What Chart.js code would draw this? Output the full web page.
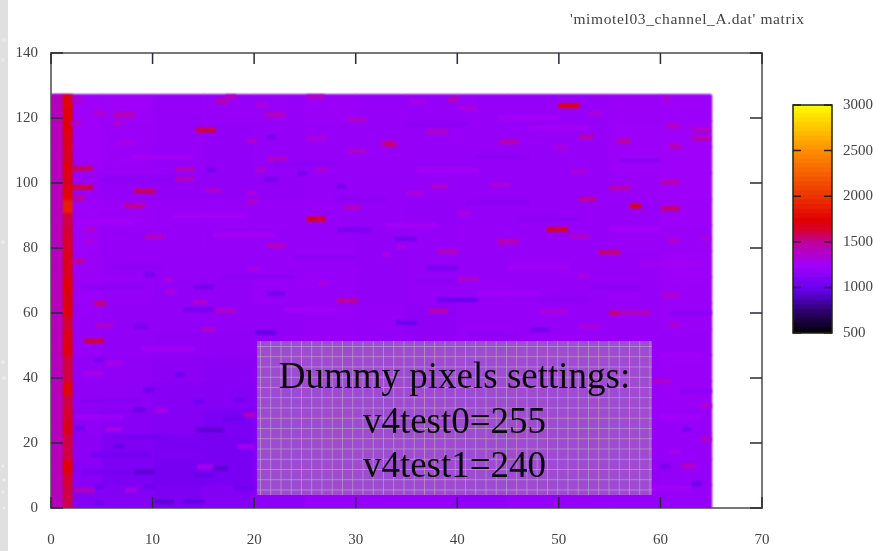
<!DOCTYPE html>
<html><head><meta charset="utf-8">
<style>
html,body{margin:0;padding:0;background:#fff;width:873px;height:551px;overflow:hidden}
#soft{position:absolute;left:0;top:0;width:873px;height:551px;filter:blur(.5px)}
canvas{position:absolute;display:block}
#strip{position:absolute;left:0;top:0;width:8px;height:551px;background-color:#e0e0e0;
 background-image:radial-gradient(circle 2px at 3px 466px,#f6f6f6,transparent),radial-gradient(circle 2px at 4px 480px,#f6f6f6,transparent),radial-gradient(circle 2px at 3px 492px,#f4f4f4,transparent),radial-gradient(circle 2px at 4px 508px,#f4f4f4,transparent),radial-gradient(circle 3px at 3px 242px,#efefef,transparent),radial-gradient(circle 3px at 3px 362px,#efefef,transparent),radial-gradient(circle 3px at 4px 378px,#efefef,transparent),radial-gradient(circle 3px at 4px 40px,#ececec,transparent),radial-gradient(circle 3px at 3px 60px,#ececec,transparent)}
#title{position:absolute;left:570px;top:10px;font:15.5px "Liberation Serif",serif;letter-spacing:.62px;color:#444;white-space:nowrap}
#note{position:absolute;left:257px;top:341px;width:395px;height:154px;
 background-color:rgba(165,85,212,.85);
 background-image:linear-gradient(rgba(185,180,185,.6) 1px,transparent 1px),linear-gradient(90deg,rgba(185,180,185,.6) 1px,transparent 1px),repeating-conic-gradient(rgba(140,90,170,.3) 0 25%,transparent 0 50%);
 background-size:10.25px 10.25px,10.25px 10.25px,3px 3px;background-position:3px 5px,3px 5px,0 0;
 font:37px/44.5px "Liberation Serif",serif;color:#0a0a0a;text-align:center;padding-top:13px;box-sizing:border-box;white-space:nowrap}
</style></head><body>
<div id="strip"></div>
<div id="soft">
<canvas id="heat" width="873" height="551" style="left:0;top:0"></canvas>
<canvas id="bar" width="112" height="400" style="left:780px;top:0"></canvas>
<div id="title">'mimotel03_channel_A.dat' matrix</div>
</div>
<div id="note">Dummy pixels settings:<br>v4test0=255<br>v4test1=240</div>
<script src="https://cdn.jsdelivr.net/npm/chart.js@4/dist/chart.umd.min.js"></script>
<script>
const xTicks=[0,10,20,30,40,50,60,70];
const yTicks=[0,20,40,60,80,100,120,140];
const barTicks=[500,1000,1500,2000,2500,3000];
const paletteLevels=[500,750,1000,1250,1500,1650,1750,2000,2500,3000];
const paletteColors=[[0,0,0],[45,0,110],[105,0,240],[163,0,250],[190,0,160],[215,0,40],[225,0,0],[235,50,0],[255,140,0],[255,250,0]];
const barLevels=[500,550,600,650,700,750,800,850,900,950,1000,1050,1100,1150,1200,1250,1300,1350,1400,1450,1500,1550,1600,1650,1700,1750,1800,1850,1900,1950,2000,2050,2100,2150,2200,2250,2300,2350,2400,2450,2500,2550,2600,2650,2700,2750,2800,2850,2900,2950,3000];

// x spans of the coarse background columns
const bandStarts=[0,5,10,15,20,25,30,35,40,45,50,55,60];
// y centres of the coarse background rows, bottom to top
const bandRows=[3,11,19,27,35,43,51,59,67,75,83,91,99,107,115,123];
const bandValues=[
[1110,1110,1090,1110,1160,1190,1190,1190,1170,1190,1190,1190,1200],
[1140,1090,1060,1070,1130,1160,1190,1190,1170,1190,1190,1180,1190],
[1150,1100,1080,1070,1120,1160,1190,1190,1170,1190,1190,1190,1200],
[1160,1140,1120,1080,1120,1160,1170,1180,1180,1190,1190,1200,1200],
[1170,1160,1130,1120,1140,1170,1170,1180,1190,1200,1200,1200,1210],
[1180,1170,1150,1140,1160,1180,1180,1180,1200,1200,1210,1200,1210],
[1200,1180,1170,1170,1180,1190,1180,1170,1190,1200,1200,1200,1200],
[1200,1180,1180,1180,1180,1200,1190,1170,1200,1200,1200,1200,1210],
[1210,1190,1180,1180,1200,1200,1180,1190,1200,1200,1190,1200,1210],
[1210,1200,1190,1190,1200,1200,1180,1190,1190,1200,1200,1200,1220],
[1220,1200,1200,1200,1200,1200,1180,1190,1200,1200,1200,1210,1210],
[1220,1210,1200,1200,1200,1200,1190,1180,1190,1190,1200,1200,1220],
[1210,1190,1180,1180,1180,1190,1190,1190,1190,1190,1200,1210,1230],
[1220,1210,1190,1180,1190,1200,1200,1190,1190,1190,1200,1220,1230],
[1230,1210,1200,1180,1190,1200,1200,1200,1200,1200,1200,1220,1230],
[1230,1220,1200,1200,1200,1210,1200,1190,1200,1200,1200,1210,1220]];
// first two pixel columns
const dummyRows=[1,5,9,13,17,21,25,29,33,37,41,45,49,53,57,61,65,69,73,77,81,85,89,93,97,101,105,109,113,117,121,125];
const column0=[1430,1430,1430,1430,1430,1430,1430,1430,1430,1430,1430,1430,1430,1430,1430,1430,1430,1430,1430,1430,1430,1430,1430,1430,1430,1430,1430,1430,1430,1430,1430,1430];
const column1=[1600,1620,1640,1760,1620,1620,1700,1650,1620,1780,1620,1620,1720,1700,1640,1730,1720,1760,1680,1700,1660,1640,1620,1900,1780,1680,1720,1680,1700,1740,1760,1780];
// [x from, x to, y, level] hot and cold streaks
const streaks=[
[2.1,3.1,125.5,1380],[16.2,17.4,125.2,1470],[17.2,18.2,126.5,1420],[25.2,26.9,126.5,1380],[20.2,21.3,124,1330],[4.3,5.4,121.6,1380],[6.2,8.2,121,1470],[21.1,23.1,121,1420],[6.2,7,118.3,1380],[29.2,31.1,119.4,1380],[2,3,118.3,1380],[14.3,16.2,116.3,1640],[19.3,20.2,113,1380],[25.2,27,113.7,1330],[6.5,8.2,112.4,1300],[32.6,33.5,112.2,1520],[29.2,31,109.8,1380],[21.3,23.3,107.3,1420],[2,4.1,104.5,1600],[12.3,14.1,104.3,1420],[20.2,21.1,104,1380],[26.2,27.2,104.2,1380],[12.3,14.1,101.2,1420],[2,4.1,98.7,1640],[8.2,10.2,97.5,1600],[15.2,16.7,97.8,1380],[2.3,3.3,95.3,1520],[19.3,20.2,96.8,1330],[19.3,20.3,94.2,1380],[7.2,9.2,93,1520],[28.9,30.5,92.5,1420],[25.2,27,88.9,1720],
[39.1,40.1,125.7,1470],[50,52,123.8,1720],[40.3,41.9,123,1330],[53,54.2,121.4,1330],[60.3,60.9,126,1380],[35.4,37,125,1300],[37,39.1,115.8,1380],[60.6,61.9,117.5,1420],[63.2,64.9,116.3,1420],[63.2,64.9,113.7,1470],[32.9,34,111.9,1560],[44.2,46,112.7,1470],[52,53.4,114.2,1470],[55.8,57,112.9,1520],[60.9,62,111.2,1470],[49.5,50.9,111,1330],[51.1,52.7,103.5,1330],[60.1,61.9,100.2,1470],[55,57,98.5,1470],[37.5,39.1,98.9,1380],[43.2,45.2,99.4,1330],[35,36.7,96.8,1330],[52,53.7,95,1520],[57,58.1,92.9,1720],[60.1,61.9,92.2,1560],[40.1,41.3,90.5,1330],
[3.3,4.4,85.6,1380],[9.3,11.1,83.5,1420],[3.3,4.3,82.3,1330],[21.3,23.1,80.7,1420],[2,3.3,76,1520],[4.3,5.4,63,1560],[14.1,15.4,63.3,1380],[28.2,30.2,63.8,1520],[16.2,18.2,60.7,1380],[4.4,6.1,56.1,1380],[14.8,16.2,55,1380],[3.3,5.2,51.4,1640],[26.4,27.2,69.2,1330],[11.3,12.3,66.6,1330],[11.1,12,70.2,1330],[32.6,33.4,78,1300],[19.3,20.5,73.6,1300],
[48.8,50.9,85.7,1680],[44,46,82,1470],[51.1,53,83.5,1380],[38.1,40,78.9,1420],[53.9,56,78.7,1560],[60.8,61.9,82.3,1380],[64,64.9,83,1330],[34,35,80.4,1300],[40,42.1,70.4,1380],[51.9,52.9,71.4,1330],[60.1,61.9,65.6,1380],[37.2,39.1,60.7,1470],[55,56,60.1,1560],[56,59,60.1,1420],[48.1,50.8,60.4,1330],[52,54,55.8,1330],[60.9,61.9,56.3,1380],
[2.3,4.3,5.5,1420],[19,20.2,28.6,1420],[10.3,11.5,30,1300],[5.4,7,44.5,1300],[3.3,5.1,41.5,1300],[5.4,7,24.2,1280],[14.4,16,12.7,1280],[18.4,20,18.9,1280],[7.4,8.4,5.5,1300],
[59.3,61,38.9,1380],[64,65,31.5,1380],[64,65,21.2,1420],[62.1,63.4,12.9,1420],[61,62,17.3,1280],[48.5,50,48,1330],[54.7,56,45.5,1300],[51.2,53,4.5,1330],
[15.4,16.2,104,1060],[21,22.3,101,1060],[24.3,25.2,103,1060],[28.2,29,99,1060],[21.3,22.1,114,1080],[14.1,16,68,1060],[20.2,22.1,54,980],[9.2,10.2,71.7,1060],[8.2,9.5,55.8,1060],[13.1,16,61,1060],[28.2,31.5,85.6,1080],[21.3,23,66,1060],[4.3,5.1,45.6,1060],
[38,42,64,1010],[37,40,73.8,1060],[34,36,57,1010],[33.9,36,82.8,1060],[47.2,49.1,54.8,1060],
[12.3,13.1,41,1010],[9.2,10.2,36.3,1010],[8.2,9.2,30.2,980],[14.3,17,24,950],[6.2,7.2,18.9,980],[8.2,10.2,11,950],[16,17.4,12.2,950],[4.3,5.2,6.6,1010],[9.2,10.2,6.6,1010],[10.2,12.1,2,950],[13.1,15.1,2,980],[4.3,5.2,1.5,1040],[18,20,6,1040],[17,19,27.3,1010],[3.9,9.8,16.3,1040],[14.1,16,10,1010],[18,19,33.2,1040],[2.3,3.3,24.5,1040],[14.1,15,32.7,1040],
[62.1,63,24.2,1060],[63.1,64,7.4,1010],[60,61,12.7,1060],
// faint mottling
[8,14,108,1260],[22,28,106,1150],[5,12,101,1150],[12,19,90,1250],[2.5,8,88,1250],[28,33,95,1150],[16,22,84,1260],[24,30,77,1150],[6,11,74,1150],[17,24,71,1150],[3,9,68,1150],[23,28,61,1250],[9,14,49,1260],[16,21,46,1150],[24,28,48,1260],
[35,41,118,1150],[44,50,120,1260],[42,47,108,1150],[47,53,117,1260],[56,60,107,1150],[36,42,104,1260],[46,52,89,1150],[33,38,87,1260],[41,47,94,1150],[55,60,86,1250],[36,40,70,1150],[45,51,74,1260],[53,58,68,1150],[58,64,75,1260],[42,48,66,1250],[48,53,64,1150],[34,39,50,1260],[41,46,53,1150],[60,64,47,1250],[61,65,60,1150],[62,65,36,1150],[60,64,28,1250],[59,63,6,1250],
[3,9,33,1120],[6,12,22,1060],[11,17,19,1070],[3,8,11,1060],[11,16,8,1060],[2.5,7,28,1230]];

function colourOf(v){
  let i=0; while(i<paletteLevels.length-2&&v>paletteLevels[i+1])i++;
  const t=Math.max(0,Math.min(1,(v-paletteLevels[i])/(paletteLevels[i+1]-paletteLevels[i])));
  const a=paletteColors[i],b=paletteColors[i+1];
  return `rgb(${a.map((c,k)=>Math.round(c+(b[k]-c)*t)).join(',')})`;
}
const cellColour=c=>colourOf(c.raw.v);
const baseCells=[{y:63.5,x:[0,65],v:1200}];
const bandCells=[];
bandRows.forEach((y,r)=>bandStarts.forEach((x,c)=>bandCells.push({y,x:[x,x+5],v:bandValues[r][c]})));
const dummyCells0=dummyRows.map((y,i)=>({y,x:[0,1.2],v:column0[i]}));
const dummyCells1=dummyRows.map((y,i)=>({y,x:[1.2,2.1],v:column1[i]}));
const streakCells=streaks.map(s=>({y:s[2],x:[s[0],s[1]],v:s[3]}));
const layer=(data,t)=>({data,backgroundColor:cellColour,barThickness:t,borderWidth:0,grouped:false});

const frame={id:'frame',
 beforeDatasetsDraw(ch){const{ctx,chartArea:a}=ch;ctx.save();ctx.strokeStyle='#777';ctx.lineWidth=2;ctx.strokeRect(a.left,a.top,a.right-a.left,a.bottom-a.top);ctx.filter='blur(1.2px)';},
 afterDatasetsDraw(ch){const{ctx,chartArea:a,scales:{x,y}}=ch;ctx.restore();ctx.save();ctx.strokeStyle='#2a2a3a';ctx.lineWidth=1.5;ctx.beginPath();
  x.ticks.forEach(t=>{const p=x.getPixelForValue(t.value);ctx.moveTo(p,a.top);ctx.lineTo(p,a.top+11);ctx.moveTo(p,a.bottom);ctx.lineTo(p,a.bottom-11);});
  y.ticks.forEach(t=>{const p=y.getPixelForValue(t.value);ctx.moveTo(a.left,p);ctx.lineTo(a.left+12,p);ctx.moveTo(a.right,p);ctx.lineTo(a.right-12,p);});
  ctx.stroke();ctx.restore();}};

const plain=v=>String(v);
const tickFont={family:'"Liberation Serif",serif',size:15};
new Chart(document.getElementById('heat'),{type:'bar',plugins:[frame],
 // the first dataset is painted last, so the finest layer leads
 data:{datasets:[layer(streakCells,4),layer(dummyCells1,14),layer(dummyCells0,14),layer(bandCells,27),layer(baseCells,413)]},
 options:{indexAxis:'y',responsive:false,animation:false,devicePixelRatio:1,
  layout:{padding:{left:0,right:111,top:53,bottom:0}},
  plugins:{legend:{display:false},tooltip:{enabled:false}},
  scales:{
   x:{type:'linear',min:0,max:70,afterBuildTicks:s=>{s.ticks=xTicks.map(value=>({value}));},afterFit:s=>{s.height=43;},
      grid:{drawOnChartArea:false,drawTicks:false},border:{display:false},ticks:{padding:23,font:tickFont,color:'#444',maxRotation:0,callback:plain}},
   y:{type:'linear',min:0,max:140,offset:false,afterBuildTicks:s=>{s.ticks=yTicks.map(value=>({value}));},afterFit:s=>{s.width=51;},
      grid:{drawOnChartArea:false,drawTicks:false,offset:false},border:{display:false},ticks:{padding:13,font:tickFont,color:'#444',callback:plain}}
  }}});

const barFrame={id:'barFrame',afterDatasetsDraw(ch){const{ctx,chartArea:a,scales:{y}}=ch;ctx.save();ctx.strokeStyle='#23230f';ctx.lineWidth=1.5;ctx.strokeRect(a.left,a.top,a.right-a.left,a.bottom-a.top);ctx.beginPath();
  y.ticks.forEach(t=>{const p=y.getPixelForValue(t.value);ctx.moveTo(a.left,p);ctx.lineTo(a.left+8,p);ctx.moveTo(a.right,p);ctx.lineTo(a.right-8,p);});ctx.stroke();ctx.restore();}};
new Chart(document.getElementById('bar'),{type:'bar',plugins:[barFrame],
 data:{datasets:[layer(barLevels.map(v=>({y:v,x:[0,1],v})),6)]},
 options:{indexAxis:'y',responsive:false,animation:false,devicePixelRatio:1,
  layout:{padding:{left:13,right:0,top:105,bottom:67}},
  plugins:{legend:{display:false},tooltip:{enabled:false}},
  scales:{
   x:{type:'linear',min:0,max:1,display:false},
   y:{type:'linear',position:'right',min:500,max:3000,offset:false,afterBuildTicks:s=>{s.ticks=barTicks.map(value=>({value}));},afterFit:s=>{s.width=60;},
      grid:{drawOnChartArea:false,drawTicks:false,offset:false},border:{display:false},ticks:{padding:11,font:tickFont,color:'#444',callback:plain}}
  }}});
</script>
</body></html>
